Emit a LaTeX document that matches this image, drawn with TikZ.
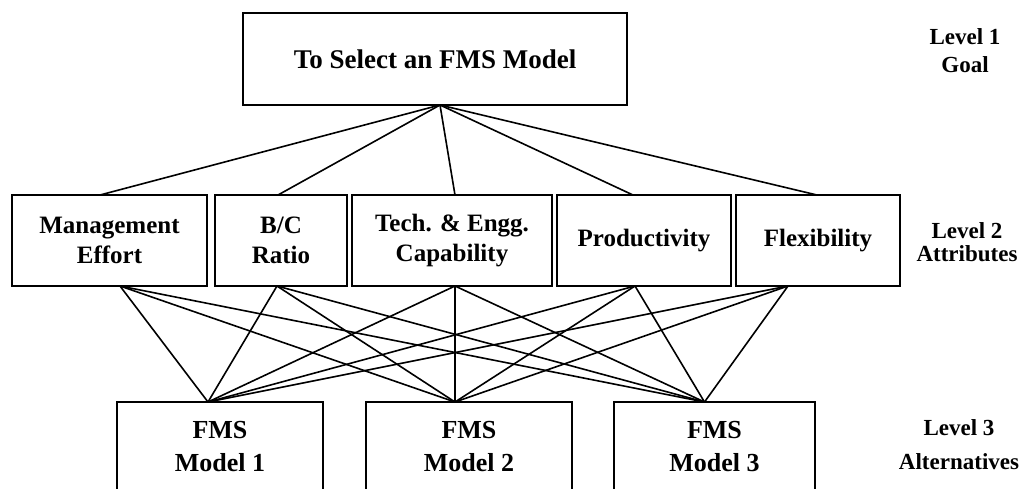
\documentclass[tikz,border=0pt]{standalone}
\usepackage{fontspec}
\setmainfont{Liberation Serif}
\begin{document}
\begin{tikzpicture}[x=1pt,y=-1pt,
  box/.style={draw=black,line width=2pt,rectangle,inner sep=0pt,outer sep=0pt,align=center,font=\fontsize{25}{30}\selectfont\bfseries},
  goalbox/.style={box,font=\fontsize{27}{32}\selectfont\bfseries},
  modelbox/.style={box,font=\fontsize{26}{33}\selectfont\bfseries},
  lvl/.style={inner sep=0pt,font=\fontsize{23}{28}\selectfont\bfseries},
  link/.style={line width=1.6pt}]
\clip (0,0) rectangle (1022,488);
\fill[white] (0,0) rectangle (1022,488);

% Level 1
\node[goalbox,minimum width=384pt,minimum height=92pt] (goal) at (435,59) {To Select an FMS Model};

% Level 2
\node[box,minimum width=195pt,minimum height=91pt] (mgmt) at (109.5,240.5) {Management\\Effort};
\node[box,minimum width=132pt,minimum height=91pt] (bc) at (281,240.5) {B/C\\Ratio};
\node[box,minimum width=200pt,minimum height=91pt] (tech) at (452,240.5) {Tech. \& Engg.\\Capability};
\node[box,minimum width=174pt,minimum height=91pt] (prod) at (644,240.5) {Productivity};
\node[box,minimum width=164pt,minimum height=91pt] (flex) at (818,240.5) {Flexibility};

% Level 3
\node[modelbox,minimum width=206pt,minimum height=89pt] (m1) at (220,446.5) {FMS\\Model 1};
\node[modelbox,minimum width=206pt,minimum height=89pt] (m2) at (469,446.5) {FMS\\Model 2};
\node[modelbox,minimum width=201pt,minimum height=89pt] (m3) at (714.5,446.5) {FMS\\Model 3};

% Level labels
\node[lvl] (l1a) at (965,37) {Level 1};
\node[lvl] (l1b) at (965,65) {Goal};
\node[lvl] (l2a) at (967,231) {Level 2};
\node[lvl] (l2b) at (967,254) {Attributes};
\node[lvl] (l3a) at (959,428) {Level 3};
\node[lvl] (l3b) at (959,462) {Alternatives};

% Goal to attributes
\coordinate (g0) at ([xshift=5pt]goal.south);
\draw[link] (g0) -- ([xshift=-9.5pt]mgmt.north);
\draw[link] (g0) -- ([xshift=-3pt]bc.north);
\draw[link] (g0) -- ([xshift=3pt]tech.north);
\draw[link] (g0) -- ([xshift=-11pt]prod.north);
\draw[link] (g0) -- ([xshift=-1pt]flex.north);

% Attributes to alternatives
\coordinate (a1) at ([xshift=-12pt]m1.north);
\coordinate (a2) at ([xshift=-14pt]m2.north);
\coordinate (a3) at ([xshift=-10pt]m3.north);
\coordinate (b1) at ([xshift=10.5pt]mgmt.south);
\coordinate (b2) at ([xshift=-4pt]bc.south);
\coordinate (b3) at ([xshift=3pt]tech.south);
\coordinate (b4) at ([xshift=-9pt]prod.south);
\coordinate (b5) at ([xshift=-30pt]flex.south);
\foreach \b in {b1,b2,b3,b4,b5}{
  \foreach \a in {a1,a2,a3}{
    \draw[link] (\b) -- (\a);
  }
}
\end{tikzpicture}
\end{document}
